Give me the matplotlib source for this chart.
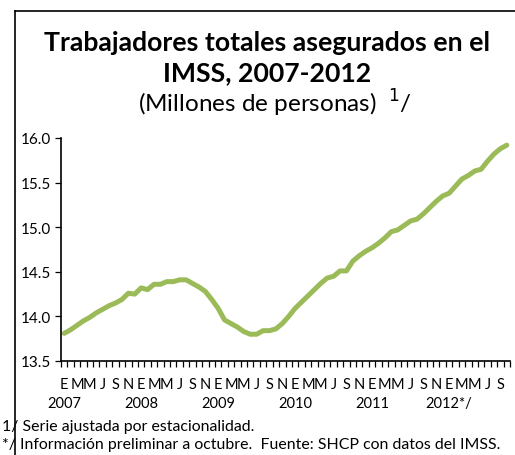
import numpy as np
import matplotlib
matplotlib.use("Agg")
import matplotlib.pyplot as plt
from matplotlib.lines import Line2D
from matplotlib.transforms import blended_transform_factory

plt.rcParams['font.family'] = ['Lato', 'DejaVu Sans']

# ----------------------------------------------------------
# datos: trabajadores asegurados IMSS (millones), ene-2007 a oct-2012
# ----------------------------------------------------------
valores = [
    13.81, 13.85, 13.90, 13.95, 13.99, 14.04, 14.08, 14.12, 14.15, 14.19, 14.26, 14.25,  # 2007
    14.32, 14.30, 14.36, 14.36, 14.39, 14.39, 14.41, 14.41, 14.37, 14.33, 14.28, 14.19,  # 2008
    14.09, 13.96, 13.92, 13.88, 13.83, 13.80, 13.80, 13.84, 13.84, 13.86, 13.92, 14.00,  # 2009
    14.09, 14.16, 14.23, 14.30, 14.37, 14.43, 14.45, 14.51, 14.51, 14.62, 14.68, 14.73,  # 2010
    14.77, 14.82, 14.88, 14.95, 14.97, 15.02, 15.07, 15.09, 15.15, 15.22, 15.29, 15.35,  # 2011
    15.38, 15.46, 15.54, 15.58, 15.63, 15.65, 15.74, 15.82, 15.88, 15.92,               # 2012
]
meses = ['E', 'M', 'M', 'J', 'S', 'N']
anios = ['2007', '2008', '2009', '2010', '2011', '2012*/']
y_ticks = [13.5, 14.0, 14.5, 15.0, 15.5, 16.0]

W, H = 515, 456
fx = lambda px: px / W
fy = lambda px: 1 - px / H

fig = plt.figure(figsize=(W / 100, H / 100), dpi=100)
ax = fig.add_axes([fx(61), fy(362), fx(510) - fx(61), fy(139) - fy(362)])

x = np.arange(len(valores))
ax.plot(x, valores, color='#9BBB59', lw=3.6, solid_capstyle='round')

ax.set_xlim(-0.5, len(valores) - 0.5)
ax.set_ylim(13.5, 16.0)
ax.set_yticks(y_ticks)
ax.set_yticklabels([f"{v:.1f}" for v in y_ticks], fontsize=11)
ax.set_xticks(np.arange(-0.5, len(valores), 1.0))
ax.set_xticklabels([])
ax.tick_params(axis='x', direction='out', length=4, width=0.9)
ax.tick_params(axis='y', direction='out', length=4, width=0.9, pad=3)

for s in ['top', 'right']:
    ax.spines[s].set_visible(False)
for s in ['left', 'bottom']:
    ax.spines[s].set_linewidth(1.2)

# etiquetas de meses y años
tr = blended_transform_factory(ax.transData, fig.transFigure)
for i in range(0, len(valores), 2):
    ax.text(i, fy(385), meses[(i // 2) % 6], transform=tr, ha='center', va='center',
            fontsize=10.5)
for k, a in enumerate(anios):
    ax.text(k * 12, fy(404), a, transform=tr, ha='center', va='center', fontsize=10.5)

# títulos
fig.text(fx(267), fy(43), "Trabajadores totales asegurados en el", ha='center', va='center',
         fontsize=19.2, fontweight='bold')
fig.text(fx(267), fy(73), "IMSS, 2007-2012", ha='center', va='center',
         fontsize=19.2, fontweight='bold')
fig.text(fx(275), fy(103), r"(Millones de personas)  $^{1}$/", ha='center', va='center',
         fontsize=17.5)

# notas
fig.text(fx(2), fy(427), "1/ Serie ajustada por estacionalidad.", ha='left', va='center',
         fontsize=11.4)
fig.text(fx(2), fy(445), "*/ Información preliminar a octubre.  Fuente: SHCP con datos del IMSS.",
         ha='left', va='center', fontsize=11.4)

# marco
fig.add_artist(Line2D([fx(15), fx(15)], [0, fy(12)], color='black', lw=1.2))
fig.add_artist(Line2D([fx(15), 1], [fy(12), fy(12)], color='black', lw=1.2))

fig.savefig('out.png', dpi=100)
